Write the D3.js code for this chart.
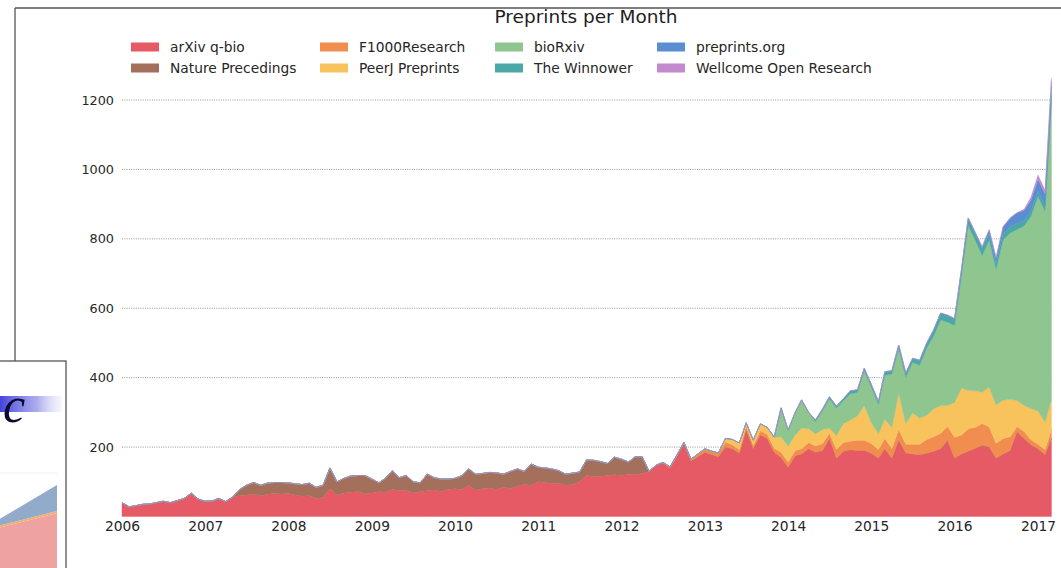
<!DOCTYPE html>
<html><head><meta charset="utf-8">
<script src="https://cdn.jsdelivr.net/npm/d3@7"></script>
<style>
body{margin:0;background:#fff;}
svg{display:block;font-family:"DejaVu Sans",sans-serif;}
</style>
</head><body>
<svg id="chart" width="1061" height="568"></svg>
<script>
// ---------------- DATA ----------------
const chartTitle = "Preprints per Month";
const firstMonth = "2006-01";
const monthCount = 135; // Jan 2006 .. Mar 2017

const seriesNames = ["arXiv q-bio","Nature Precedings","F1000Research","PeerJ Preprints",
                     "bioRxiv","The Winnower","preprints.org","Wellcome Open Research"];
const seriesStarts = ["2006-01","2007-06","2012-07","2013-04","2013-11","2014-05","2016-04","2016-11"];

const arxivQbio = [
  40,28,31,35,36,40,44,40,46,52,67,50,          // 2006
  44,45,52,43,56,60,62,65,60,64,66,65,          // 2007
  66,62,58,60,52,55,80,62,68,70,72,66,          // 2008
  68,72,70,78,74,75,68,72,74,76,72,78,          // 2009
  80,78,90,76,80,82,78,85,80,88,92,90,          // 2010
  100,98,94,96,90,92,100,118,115,116,118,120,   // 2011
  118,122,120,124,130,148,154,140,175,210,160,172, // 2012
  185,178,172,200,195,182,250,195,235,225,185,170, // 2013
  142,175,180,195,185,190,225,168,188,192,190,190, // 2014
  182,168,195,168,220,183,180,178,182,188,195,220, // 2015
  168,180,188,197,205,200,168,180,190,244,225,207, // 2016
  195,178,226                                    // 2017
];
const naturePrecedings = [
  18,28,33,30,32,32,33,
  31,32,34,36,32,35,60,38,42,47,46,52,
  40,25,40,54,38,43,32,25,48,36,36,30,
  30,40,47,46,44,45,48,37,50,49,38,61,
  42,42,43,36,32,33,28,45,47,42,35,51,
  47,35,52,48
];
const f1000Research = [
  2,3,3,4,5,8,
  10,10,11,15,12,10,10,10,12,12,12,15,
  15,15,15,18,18,20,15,25,25,25,30,30,
  28,25,30,28,30,25,28,30,40,42,45,40,
  60,55,65,60,63,58,43,45,40,15,20,14,
  14,14,24
];
const peerjPreprints = [
  10,15,20,10,15,20,20,30,45,
  45,45,60,40,35,40,15,40,55,60,70,100,
  60,45,55,60,105,60,90,75,70,80,80,60,
  100,135,110,105,90,115,110,110,108,75,75,90,
  95,80,86
];
const bioRxiv = [
  2,83,
  47,65,81,47,35,55,84,79,66,77,67,99,
  102,85,127,154,129,133,146,153,193,209,246,240,
  222,323,475,433,394,423,391,462,479,493,517,554,
  618,608,863
];
const theWinnower = [
  5,5,6,6,6,8,8,8,
  8,8,10,10,10,12,12,14,15,18,20,20,
  20,22,22,20,20,20,18,18,18,18,15,15,
  15,15,15
];
const preprintsOrg = [3,5,10,15,20,25,30,30,32,35,35,40];
const wellcomeOpen = [3,8,12,10,8];

const yTicks = [200,400,600,800,1000,1200];
const xTickYears = [2006,2007,2008,2009,2010,2011,2012,2013,2014,2015,2016,2017];

const seriesColors = ["#e65a66","#a4705b","#f28d50","#f8c35c","#8fc68f","#4aa8a7","#5b8ed0","#c48ad0"];

// inset fragment (piece of another picture overlapping lower-left corner)
const insetSteps = [0, 1];
const insetPink = [40, 55];
const insetOrange = [2, 2];
const insetBlue = [6, 26];

// ---------------- BUILD ----------------
const parse = d3.utcParse("%Y-%m");
const start = parse(firstMonth);
const months = d3.utcMonth.range(start, d3.utcMonth.offset(start, monthCount));
const seriesValues = [arxivQbio, naturePrecedings, f1000Research, peerjPreprints,
                      bioRxiv, theWinnower, preprintsOrg, wellcomeOpen];
const offsets = seriesStarts.map(s => d3.utcMonth.count(start, parse(s)));
const table = months.map((m, i) => {
  const row = {date: m};
  seriesNames.forEach((n, k) => {
    const v = seriesValues[k][i - offsets[k]];
    row[n] = (i >= offsets[k] && v !== undefined) ? v : 0;
  });
  return row;
});

const svg = d3.select("#chart");
const x = d3.scaleUtc().domain([Date.UTC(2006,0,1), Date.UTC(2017,0,1)]).range([122, 1038]);
const y = d3.scaleLinear().domain([0, 1200]).range([516.5, 100]);
const textColor = "#262626";

// frame of the photographed window
svg.append("line").attr("x1",15).attr("x2",1061).attr("y1",8).attr("y2",8)
  .attr("stroke","#555").attr("stroke-width",1.3);
svg.append("line").attr("x1",15).attr("x2",15).attr("y1",8).attr("y2",362)
  .attr("stroke","#555").attr("stroke-width",1.3);

// gridlines
const xEnd = x(months[months.length-1]);
svg.append("g").selectAll("line").data(yTicks).join("line")
  .attr("x1", x(months[0])).attr("x2", xEnd)
  .attr("y1", d => y(d)).attr("y2", d => y(d))
  .attr("stroke","#8a8a8a").attr("stroke-width",0.9).attr("stroke-dasharray","1,1.3");

// stacked areas
const stack = d3.stack().keys(seriesNames);
const layers = stack(table);
const area = d3.area()
  .x(d => x(d.data.date))
  .y0(d => y(d[0]))
  .y1(d => y(d[1]));
svg.append("g").selectAll("path").data(layers).join("path")
  .attr("d", area)
  .attr("fill", (d,i) => seriesColors[i])
  .attr("stroke", (d,i) => seriesColors[i])
  .attr("stroke-width", 0.4);

// axes
const yAxis = svg.append("g").attr("transform","translate(122,0)")
  .call(d3.axisLeft(y).tickValues(yTicks).tickSize(0).tickPadding(8).tickFormat(d3.format("d")));
yAxis.select(".domain").remove();
yAxis.selectAll("text").attr("font-family","DejaVu Sans").attr("font-size",12.8).attr("fill",textColor);

const xAxis = svg.append("g").attr("transform","translate(0,517)")
  .call(d3.axisBottom(x).tickValues(xTickYears.map(yy => new Date(Date.UTC(yy,0,1))))
        .tickSize(0).tickPadding(4).tickFormat(d3.utcFormat("%Y")));
xAxis.select(".domain").remove();
xAxis.selectAll("text").attr("font-family","DejaVu Sans").attr("font-size",13.8).attr("fill",textColor);

// title
svg.append("text").attr("x",586).attr("y",23).attr("text-anchor","middle")
  .attr("font-size",18.5).attr("fill","#1e1e1e").text(chartTitle);

// legend
const colX = [131, 320, 495, 657];
const rowY = [47, 68];
const lg = svg.append("g").selectAll("g").data(seriesNames).join("g")
  .attr("transform", (d,i) => `translate(${colX[Math.floor(i/2)]},${rowY[i%2]})`);
lg.append("rect").attr("x",0).attr("y",-4.5).attr("width",28).attr("height",9)
  .attr("fill",(d,i)=>seriesColors[i]);
lg.append("text").attr("x",39).attr("y",0).attr("dy","0.35em")
  .attr("font-size",13.8).attr("fill",textColor).text(d=>d);

// inset fragment (other picture overlapping)
const inset = svg.append("g");
inset.append("rect").attr("x",-2).attr("y",361).attr("width",68).attr("height",210)
  .attr("fill","#fff").attr("stroke","#555").attr("stroke-width",1.3);
const defs = svg.append("defs");
const grad = defs.append("linearGradient").attr("id","ig").attr("x1","0").attr("x2","1").attr("y1","0").attr("y2","0");
grad.append("stop").attr("offset","0").attr("stop-color","#3a3ad8").attr("stop-opacity",0.95);
grad.append("stop").attr("offset","0.6").attr("stop-color","#8a8ae8").attr("stop-opacity",0.7);
grad.append("stop").attr("offset","1").attr("stop-color","#c8c8f4").attr("stop-opacity",0.15);
inset.append("rect").attr("x",0).attr("y",396).attr("width",62).attr("height",16).attr("fill","url(#ig)");
inset.append("text").attr("x",3).attr("y",422).attr("font-family","Liberation Serif")
  .attr("font-style","italic").attr("font-size",50).attr("fill","#0a0a30").text("c");
const ix = d3.scaleLinear().domain([0,1]).range([-2, 57]);
const iy = d3.scaleLinear().domain([0,100]).range([568, 468]);
const insetRows = insetSteps.map((s,i)=>({s, pink: insetPink[i], orange: insetOrange[i], blue: insetBlue[i]}));
const iLayers = d3.stack().keys(["pink","orange","blue"])(insetRows);
const iColors = ["#efa2a2","#f5ae6c","#93abcb"];
inset.append("g").selectAll("path").data(iLayers).join("path")
  .attr("d", d3.area().x(d=>ix(d.data.s)).y0(d=>iy(d[0])).y1(d=>iy(d[1])))
  .attr("fill",(d,i)=>iColors[i]);
inset.append("line").attr("x1",0).attr("x2",57).attr("y1",473).attr("y2",473)
  .attr("stroke","#eee").attr("stroke-width",1);
</script>
</body></html>
